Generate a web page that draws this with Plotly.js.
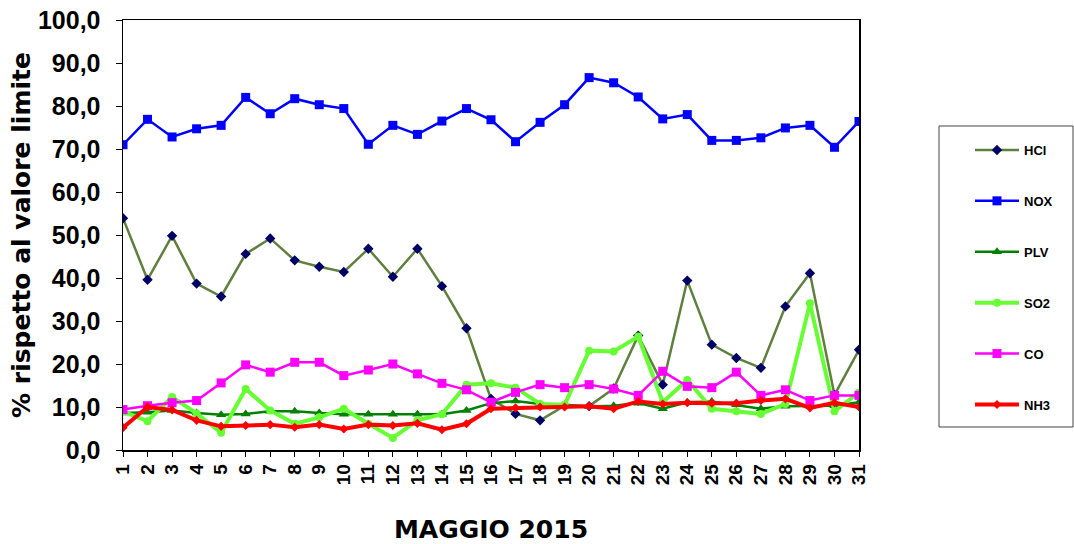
<!DOCTYPE html>
<html>
<head>
<meta charset="utf-8">
<script src="https://cdn.plot.ly/plotly-3.0.1.min.js"></script>
<style>
  html, body { margin: 0; padding: 0; background: #ffffff; }
  #chart { width: 1074px; height: 544px; }
</style>
</head>
<body>
<div id="chart"></div>
<script>
// Days of May 2015
const days = [1,2,3,4,5,6,7,8,9,10,11,12,13,14,15,16,17,18,19,20,21,22,23,24,25,26,27,28,29,30,31];
const dayLabels = days.map(String);

// % relative to the limit value
const HCl = [53.9,39.6,49.8,38.7,35.7,45.6,49.2,44.1,42.6,41.4,46.8,40.3,46.8,38.1,28.3,11.9,8.4,6.9,10.3,10.2,14.3,26.6,15.2,39.4,24.5,21.4,19.1,33.4,41.1,12.8,23.3];
const NOX = [71.0,76.9,72.8,74.7,75.5,82.0,78.2,81.7,80.3,79.4,71.1,75.5,73.4,76.5,79.4,76.8,71.7,76.2,80.3,86.6,85.4,82.1,77.0,78.0,72.0,72.0,72.6,74.9,75.5,70.4,76.4];
const PLV = [8.6,8.8,9.2,8.6,8.2,8.4,9.0,9.0,8.6,8.3,8.3,8.3,8.3,8.3,9.2,10.9,11.4,10.7,10.5,10.1,10.3,10.9,9.6,11.1,11.3,10.5,9.6,10.2,10.3,10.3,11.1];
const SO2 = [9.0,6.7,12.3,8.5,4.0,14.2,9.2,6.1,7.6,9.6,6.1,2.8,6.9,8.3,15.2,15.5,14.5,10.7,10.5,23.1,22.9,26.4,11.1,16.3,9.6,9.0,8.4,10.7,34.1,9.0,13.4];
const CO  = [9.4,10.3,11.0,11.5,15.6,19.8,18.1,20.4,20.4,17.3,18.6,20.0,17.7,15.5,14.0,11.1,13.4,15.2,14.5,15.2,14.2,12.7,18.3,14.8,14.5,18.1,12.7,14.0,11.5,12.7,12.7];
const NH3 = [5.2,10.0,9.3,6.9,5.5,5.7,5.9,5.3,5.9,4.9,5.9,5.7,6.2,4.7,6.1,9.6,9.8,10.0,10.0,10.2,9.6,11.3,10.7,11.0,10.9,10.9,11.5,11.9,9.8,11.0,10.0];

const seriesNames = ['HCl','NOX','PLV','SO2','CO','NH3'];
const seriesValues = [HCl, NOX, PLV, SO2, CO, NH3];

const styles = [
  {line:{color:'#5f7f3f', width:2.5}, marker:{symbol:'diamond', size:8, color:'#000066'}},
  {line:{color:'#0000ff', width:2.5}, marker:{symbol:'square', size:9, color:'#0000ff'}},
  {line:{color:'#008000', width:2.5}, marker:{symbol:'triangle-up', size:9, color:'#008000'}},
  {line:{color:'#66ff33', width:4},   marker:{symbol:'circle', size:8, color:'#66ff33'}},
  {line:{color:'#ff00ff', width:2.5}, marker:{symbol:'square', size:9, color:'#ff00ff'}},
  {line:{color:'#ff0000', width:4},   marker:{symbol:'diamond', size:7, color:'#ff0000'}}
];

const traces = seriesNames.map((name, i) => ({
  type: 'scatter',
  mode: 'lines+markers',
  name: name,
  legendgroup: name,
  x: days,
  y: seriesValues[i],
  line: styles[i].line,
  marker: styles[i].marker,
  hoverinfo: 'x+y+name'
}));

const layout = {
  width: 1074,
  height: 544,
  paper_bgcolor: '#ffffff',
  plot_bgcolor: '#ffffff',
  margin: {l: 123, r: 215, t: 20, b: 94, pad: 0},
  font: {family: 'Liberation Sans, Arial, sans-serif', color: '#000000'},
  separators: ',.',
  showlegend: true,
  legend: {
    x: 1.1508, xanchor: 'left',
    y: 0.7326, yanchor: 'top',
    bgcolor: 'rgba(0,0,0,0)',
    borderwidth: 0,
    font: {family: 'Liberation Sans, Arial, sans-serif', size: 13, weight: 'bold', color: '#000000'},
    traceorder: 'grouped',
    tracegroupgap: 31,
    itemwidth: 44,
    itemclick: false
  },
  shapes: [
    // legend frame
    {type: 'rect', xref: 'paper', yref: 'paper', x0: 1.1087, x1: 1.2908, y0: 0.0535, y1: 0.7535,
     line: {color: '#444444', width: 1}, fillcolor: 'rgba(0,0,0,0)', layer: 'below'}
  ],
  xaxis: {
    type: 'linear',
    range: [1, 31],
    tickvals: days,
    ticktext: dayLabels,
    tickangle: -90,
    ticks: 'outside',
    ticklen: 5,
    tickwidth: 1,
    tickcolor: '#000000',
    showline: true,
    linecolor: '#000000',
    linewidth: 1.5,
    mirror: true,
    showgrid: false,
    zeroline: false,
    tickfont: {family: 'Liberation Sans, Arial, sans-serif', size: 19, weight: 'bold'},
    title: {text: 'MAGGIO 2015', font: {family: 'DejaVu Sans, sans-serif', size: 25, weight: 'bold'}, standoff: 36}
  },
  yaxis: {
    range: [0, 100],
    dtick: 10,
    tick0: 0,
    tickformat: '.1f',
    ticks: 'outside',
    ticklen: 6,
    tickwidth: 1,
    tickcolor: '#000000',
    showline: true,
    linecolor: '#000000',
    linewidth: 1.5,
    mirror: true,
    showgrid: false,
    zeroline: false,
    ticklabelstandoff: 10,
    tickfont: {family: 'Liberation Sans, Arial, sans-serif', size: 25, weight: 'bold'},
    title: {text: '% rispetto al valore limite', font: {family: 'DejaVu Sans, sans-serif', size: 25, weight: 'bold'}, standoff: 0}
  }
};

Plotly.newPlot('chart', traces, layout, {displayModeBar: false, staticPlot: true});
</script>
</body>
</html>
